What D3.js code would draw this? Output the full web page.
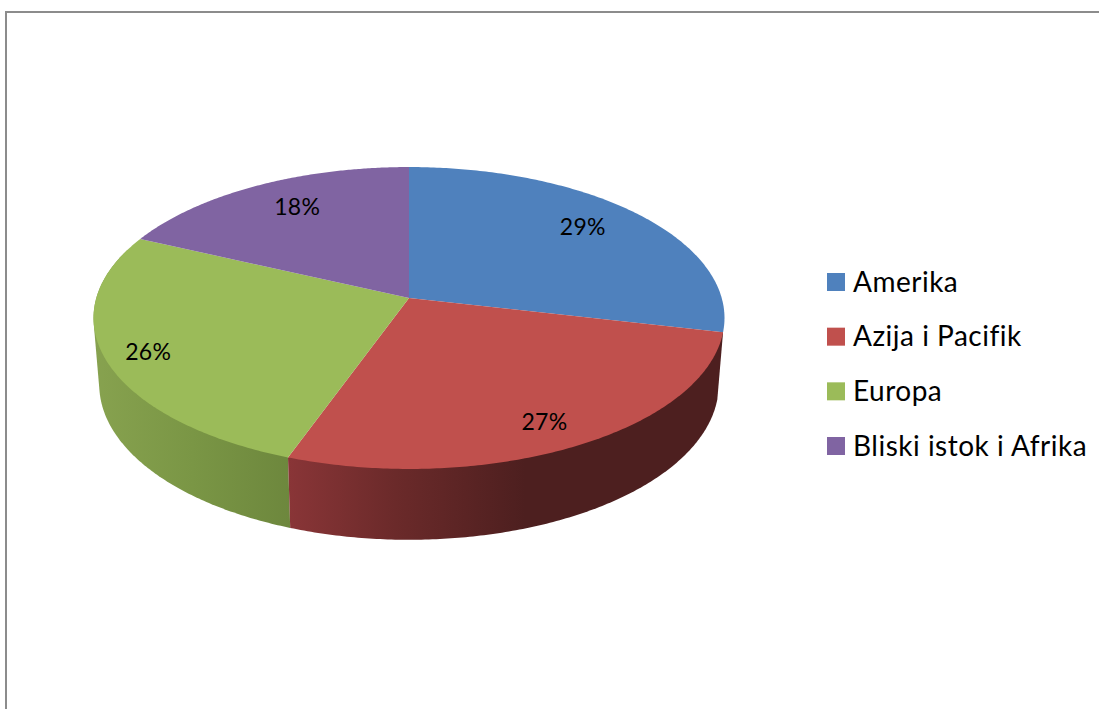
<!DOCTYPE html>
<html><head><meta charset="utf-8">
<script src="https://cdn.jsdelivr.net/npm/d3@7/dist/d3.min.js"></script>
<style>html,body{margin:0;padding:0;background:#fff;overflow:hidden}svg{display:block}text{font-family:Lato,"Open Sans",sans-serif;fill:#000}</style>
</head><body><svg id="c" width="1099" height="709"></svg>
<script>
const categories=["Amerika","Azija i Pacifik","Europa","Bliski istok i Afrika"];
const values=[28.6,26.9,26.4,18.1];
const colors=["#4f81bd","#c0504d","#9bbb59","#8064a2"];
const labelRadii=[.75,.84,.88,.71];
const labelNudge=[[1,-5],[-4,3],[5,2],[-1,-8]];

const svg=d3.select("#c");
const W=1099,H=709;
const cx=409,cy=298,A=312.7,B=148.3,k=.1325;
const A2=307,B2=152.5,dy=66;
const project=(a,r=1,level=0)=>{
  const u=Math.sin(a)*r,v=-Math.cos(a)*r,w=1-k*v;
  return level?[cx+A2*u/w,cy+dy+B2*v/w]:[cx+A*u/w,cy+B*v/w];
};
const arcs=d3.pie().sort(null).value(d=>d)(values);
const color=d3.scaleOrdinal(categories,colors);
const line=d3.line();
const samples=(a0,a1)=>d3.range(0,161).map(i=>a0+(a1-a0)*i/160);

// frame
svg.append("path").attr("d",`M6,${H}V12H${W}`).attr("fill","none").attr("stroke","#8c8c8c").attr("stroke-width",2);

// gradients for the shaded rim
const defs=svg.append("defs");
const grad=(id,x1,x2,stops)=>{
  const g=defs.append("linearGradient").attr("id",id).attr("gradientUnits","userSpaceOnUse")
    .attr("x1",x1).attr("x2",x2).attr("y1",0).attr("y2",0);
  stops.forEach(s=>g.append("stop").attr("offset",s[0]).attr("stop-color",s[1]));
};
grad("gRed",289,525,[[0,"#893537"],[.45,"#6b2a2a"],[1,"#4d1f1f"]]);
grad("gGreen",94,291,[[0,"#87a24f"],[.5,"#7a9645"],[1,"#6d873d"]]);

// rim: hull of the top and lower edges of a slice, later covered by the top face
const side=(a0,a1,fill)=>{
  const s=samples(a0,a1);
  const pts=s.map(a=>project(a)).concat(s.map(a=>project(a,1,1)));
  svg.append("path").attr("d",line(d3.polygonHull(pts))+"Z").attr("fill",fill);
};
side(arcs[2].startAngle,arcs[2].startAngle+Math.PI*.5,"url(#gGreen)");
side(arcs[1].startAngle,arcs[1].endAngle,"url(#gRed)");

// top face
arcs.forEach((d,i)=>{
  const pts=[[cx,cy]].concat(samples(d.startAngle,d.endAngle).map(a=>project(a)));
  svg.append("path").attr("d",line(pts)+"Z").attr("fill",color(categories[i]));
});

// value labels
const pct=d3.format(".0%");
arcs.forEach((d,i)=>{
  const p=project((d.startAngle+d.endAngle)/2,labelRadii[i]);
  svg.append("text").attr("x",p[0]+labelNudge[i][0]).attr("y",p[1]+7.5+labelNudge[i][1]).attr("text-anchor","middle")
    .attr("font-size",23).attr("letter-spacing",.3).text(pct(Math.round(d.value)/100));
});

// legend
const ly=d3.scalePoint().domain(categories).range([282,446]);
categories.forEach((c,i)=>{
  svg.append("rect").attr("x",827).attr("y",ly(c)-9).attr("width",18).attr("height",18).attr("fill",colors[i]);
  svg.append("text").attr("x",853).attr("y",ly(c)+9.5).attr("font-size",28).attr("letter-spacing",.5).text(c);
});
</script></body></html>
